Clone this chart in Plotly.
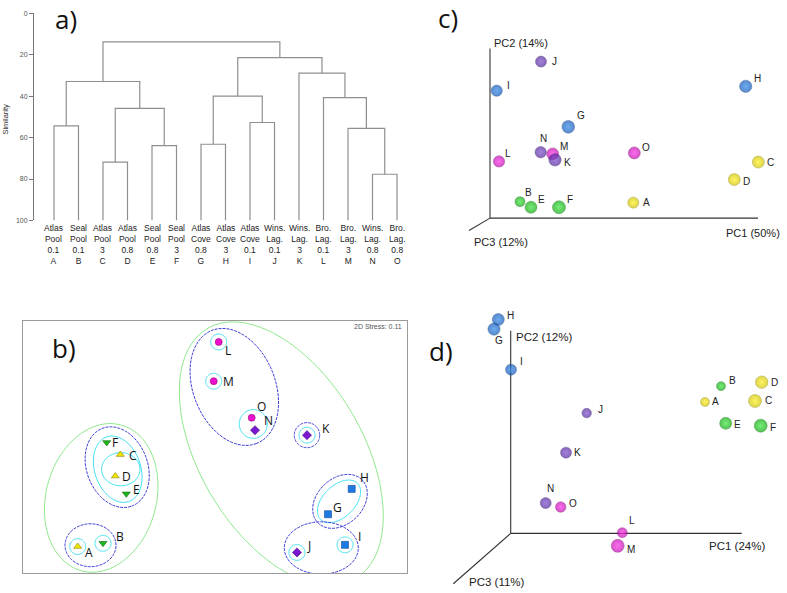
import numpy as np
import plotly.graph_objects as go

W, H = 787, 593

# ---------------- data ----------------
samples = list("ABCDEFGHIJKLMNO")
site = ["Atlas", "Seal", "Atlas", "Atlas", "Seal", "Seal", "Atlas", "Atlas", "Atlas",
        "Wins.", "Wins.", "Bro.", "Bro.", "Wins.", "Bro."]
habitat = ["Pool", "Pool", "Pool", "Pool", "Pool", "Pool", "Cove", "Cove", "Cove",
           "Lag.", "Lag.", "Lag.", "Lag.", "Lag.", "Lag."]
fraction = ["0.1", "0.1", "3", "0.8", "0.8", "3", "0.8", "3", "0.1",
            "0.1", "3", "0.1", "3", "0.8", "0.8"]
group = ["AP", "SP", "AP", "AP", "SP", "SP", "AC", "AC", "AC",
         "WL", "WL", "BL", "BL", "WL", "BL"]

# dendrogram merges: (left cluster, right cluster, similarity)
merges = [
    ("A", "B", 54.3), ("C", "D", 71.8), ("E", "F", 63.9), ("CD", "EF", 45.9),
    ("AB", "CDEF", 32.9), ("G", "H", 63.2), ("I", "J", 52.7), ("GH", "IJ", 40.0),
    ("N", "O", 77.7), ("M", "NO", 55.5), ("L", "MNO", 40.7), ("K", "LMNO", 28.9),
    ("GHIJ", "KLMNO", 21.4), ("ABCDEF", "GHIJKLMNO", 13.8),
]
sim_ticks = [0, 20, 40, 60, 80, 100]

# NMDS (panel b)
nmds1 = [-1.373, -1.12, -0.947, -0.997, -0.887, -1.083, 1.13, 1.367, 1.30, 0.82, 0.92, 0.037, -0.013, 0.40, 0.367]
nmds2 = [-1.0065, -0.9735, -0.0765, -0.2935, -0.4735, 0.0465, -0.6795, -0.4235, -0.9895, -1.0665, 0.1205, 1.0635, 0.6665, 0.1705, 0.2965]
stress_text = "2D Stress: 0.11"

# PCA view c
pc1_c = [1.433, 0.30, 2.683, 2.443, 0.41, 0.69, 0.783, 2.557, 0.067, 0.51, 0.65, 0.09, 0.627, 0.507, 1.443]
pc2_c = [0.157, 0.167, 0.567, 0.39, 0.11, 0.11, 0.924, 1.334, 1.29, 1.584, 0.59, 0.574, 0.65, 0.667, 0.66]
pc3_c = [-0.5, -1.0, 0.0, 0.0, 0.0, 0.5, 0.35, 0.15, -0.35, -0.5, 0.2, -0.35, 0.0, -0.3, 0.0]
axes_c = ["PC1 (50%)", "PC2 (14%)", "PC3 (12%)"]

# PCA view d
pc1_d = [1.943, 2.103, 2.443, 2.51, 2.15, 2.50, -0.167, -0.124, 0.003, 0.76, 0.553, 1.116, 1.07, 0.35, 0.50]
pc2_d = [1.33, 1.49, 1.34, 1.53, 1.114, 1.09, 2.067, 2.164, 1.657, 1.217, 0.817, 0.007, -0.126, 0.307, 0.267]
pc3_d = [-1.5, -1.5, 0.5, 0.25, 0.0, 0.5, 0.1, 0.0, -0.5, -1.25, -0.5, -1.0, 0.5, -0.5, -0.75]
axes_d = ["PC1 (24%)", "PC2 (12%)", "PC3 (11%)"]

# ---------------- styles ----------------
sphere_col = {"AP": "#cfc200", "SP": "#0ea80e", "AC": "#1257b5", "WL": "#52259a", "BL": "#c008b0"}
sphere_hi = {"AP": "#fff21a", "SP": "#3ae83a", "AC": "#2f88ec", "WL": "#7f4fd0", "BL": "#ff30ea"}
sphere_dark = {"AP": "#8c8200", "SP": "#0d700d", "AC": "#0c3f80", "WL": "#3a1d6a", "BL": "#7d0a72"}
b_col = {"AP": "#f0e600", "SP": "#1fb51f", "AC": "#1f7ae0", "WL": "#7a18d0", "BL": "#ee10cc"}
b_line = {"AP": "#8a8000", "SP": "#0d6a0d", "AC": "#0b4aa0", "WL": "#400a80", "BL": "#900a80"}
b_sym = {"AP": "triangle-up", "SP": "triangle-down", "AC": "square", "WL": "diamond", "BL": "circle"}
groups_order = ["AP", "SP", "AC", "BL", "WL"]

def px_x(p):
    return p / W

def px_y(p):
    return 1 - p / H

fig = go.Figure()

# ---------------- panel a: dendrogram ----------------
pos = {s: float(i) for i, s in enumerate(samples)}
hgt = {s: 100.0 for s in samples}
for l, r, h in merges:
    xl, xr = pos[l], pos[r]
    fig.add_trace(go.Scatter(x=[xl, xl, xr, xr], y=[hgt[l], h, h, hgt[r]], mode="lines",
                             line=dict(color="#8f8f8f", width=1.2), hoverinfo="skip",
                             showlegend=False, xaxis="x", yaxis="y"))
    pos[l + r] = (xl + xr) / 2
    hgt[l + r] = h

annotations = []
for i, s in enumerate(samples):
    annotations.append(dict(x=i, y=100, xref="x", yref="y", xanchor="center", yanchor="top", yshift=-1,
                            text=f"{site[i]}<br>{habitat[i]}<br>{fraction[i]}<br>{s}",
                            showarrow=False, align="center",
                            font=dict(family="Liberation Sans", size=8.5, color="#222")))
annotations.append(dict(x=px_x(6), y=px_y(117), xref="paper", yref="paper", text="Similarity",
                        textangle=-90, showarrow=False, xanchor="center", yanchor="middle",
                        font=dict(family="Liberation Sans", size=7.5, color="#333")))

# ---------------- panel b: NMDS ----------------
def ellipse_path(cx, cy, a, b, theta_deg, n=100):
    t = np.linspace(0, 2 * np.pi, n)
    th = np.radians(theta_deg)
    xs = cx + a * np.cos(t) * np.cos(th) - b * np.sin(t) * np.sin(th)
    ys = cy + a * np.cos(t) * np.sin(th) + b * np.sin(t) * np.cos(th)
    return "M " + " L ".join(f"{x:.4f},{y:.4f}" for x, y in zip(xs, ys)) + " Z"

cyan, blue_d, green_l = "#3fe0f0", "#3a3ad6", "#8ee88e"
contours = [
    # (cx, cy, a, b, theta, color, dash)
    (0.037, 1.0635, 0.08, 0.08, 0, cyan, "solid"),
    (-0.013, 0.6665, 0.08, 0.08, 0, cyan, "solid"),
    (0.92, 0.1205, 0.08, 0.08, 0, cyan, "solid"),
    (0.82, -1.0665, 0.08, 0.08, 0, cyan, "solid"),
    (1.30, -0.9895, 0.08, 0.08, 0, cyan, "solid"),
    (-1.373, -1.0065, 0.08, 0.08, 0, cyan, "solid"),
    (-1.12, -0.9735, 0.08, 0.08, 0, cyan, "solid"),
    (0.383, 0.2335, 0.14, 0.145, 0, cyan, "solid"),
    (-0.942, -0.2245, 0.192, 0.168, 0, cyan, "solid"),
    (-0.973, -0.2245, 0.345, 0.23, -72, cyan, "solid"),
    (1.24, -0.5495, 0.26, 0.16, 45, cyan, "solid"),
    (-1.245, -0.9935, 0.255, 0.217, 0, blue_d, "3px,1px"),
    (-0.978, -0.2035, 0.42, 0.305, -70, blue_d, "3px,1px"),
    (0.193, 0.6085, 0.614, 0.411, -69, blue_d, "3px,1px"),
    (0.92, 0.1205, 0.127, 0.127, 0, blue_d, "3px,1px"),
    (1.25, -0.5495, 0.31, 0.23, 45, blue_d, "3px,1px"),
    (1.063, -1.0215, 0.37, 0.265, 0, blue_d, "3px,1px"),
    (-1.138, -0.5145, 0.764, 0.552, 75.4, green_l, "solid"),
    (0.663, -0.0665, 1.466, 0.817, -59.9, green_l, "solid"),
]
shapes = []
for cx, cy, a, b, th, col, dash in contours:
    shapes.append(dict(type="path", path=ellipse_path(cx, cy, a, b, th), xref="x2", yref="y2",
                       line=dict(color=col, width=1, dash=dash), layer="below"))

for g in groups_order:
    idx = [i for i in range(15) if group[i] == g]
    fig.add_trace(go.Scatter(x=[nmds1[i] for i in idx], y=[nmds2[i] for i in idx], mode="markers",
                             marker=dict(symbol=b_sym[g], size=7, color=b_col[g],
                                         line=dict(color=b_line[g], width=0.6)),
                             showlegend=False, hoverinfo="skip", xaxis="x2", yaxis="y2"))

b_off = {"A": (11.6, 6), "B": (17.3, -6.4), "C": (13, 0.7), "D": (11.4, 0), "E": (10.4, -4.7),
         "F": (8.6, 0), "G": (9.7, -6.3), "H": (13, -11.4), "I": (14.3, -8), "J": (12, -6.7),
         "K": (18.7, -6.3), "L": (9, 8.7), "M": (14.6, 0), "N": (13.3, -9.3), "O": (9.3, -11)}
for i, s in enumerate(samples):
    dx, dy = b_off[s]
    annotations.append(dict(x=nmds1[i], y=nmds2[i], xref="x2", yref="y2", text=s, showarrow=False,
                            xanchor="center", yanchor="middle",
                            xshift=dx, yshift=-dy, font=dict(family="Open Sans", size=12, color="#111")))
annotations.append(dict(x=px_x(404), y=px_y(326), xref="paper", yref="paper", text=stress_text,
                        xanchor="right", yanchor="middle", showarrow=False,
                        font=dict(family="Liberation Sans", size=7, color="#555")))

# ---------------- panels c, d: PCA spheres ----------------
def add_spheres(p1, p2, p3, xa, ya, offs):
    for g in groups_order:
        idx = sorted([i for i in range(15) if group[i] == g], key=lambda i: p3[i])
        fig.add_trace(go.Scatter(
            x=[p1[i] for i in idx], y=[p2[i] for i in idx], mode="markers",
            marker=dict(size=[12 + 2 * p3[i] for i in idx], color=sphere_col[g],
                        gradient=dict(type="radial", color=sphere_hi[g]),
                        line=dict(color=sphere_dark[g], width=0.5)),
            showlegend=False, hoverinfo="skip", xaxis=xa, yaxis=ya))
    for i, s in enumerate(samples):
        dx, dy = offs[s]
        annotations.append(dict(x=p1[i], y=p2[i], xref=xa, yref=ya, text=s, showarrow=False,
                                xanchor="center", yanchor="middle", xshift=dx, yshift=-dy,
                                font=dict(family="Liberation Sans", size=10, color="#222")))

# axis frames (pseudo 3-D)
c_ends = dict(pc1=2.68, pc2=1.717, pc3=(-0.21, -0.125))
d_ends = dict(pc1=2.31, pc2=2.05, pc3=(-0.574, -0.51))
for xa, ya, e in [("x3", "y3", c_ends), ("x4", "y4", d_ends)]:
    for x0, y0, x1, y1 in [(0, 0, e["pc1"], 0), (0, 0, 0, e["pc2"]), (0, 0, e["pc3"][0], e["pc3"][1])]:
        shapes.append(dict(type="line", x0=x0, y0=y0, x1=x1, y1=y1, xref=xa, yref=ya,
                           line=dict(color="#333", width=1.1), layer="below"))

c_off = {"A": (13.4, 0), "B": (8.3, -9.3), "C": (11.7, 0), "D": (12.4, 1.6), "E": (10, -7.4),
         "F": (11, -7.4), "G": (12.4, -11), "H": (12, -8.3), "I": (11.6, -5), "J": (13, 0),
         "K": (12.7, 2.3), "L": (9.3, -7.6), "M": (11.3, -7.7), "N": (2.6, -13.3), "O": (11.7, -5.7)}
d_off = {"A": (10, 0), "B": (11.3, -6), "C": (13.3, 0), "D": (12.6, 0), "E": (12, 1.7),
         "F": (12.6, 1.6), "G": (5, 11.7), "H": (12.4, -4.3), "I": (10.7, -8.3), "J": (13.3, -3.3),
         "K": (11.7, 0), "L": (10, -11.7), "M": (13.3, 4), "N": (4.3, -15), "O": (12.6, -3)}
add_spheres(pc1_c, pc2_c, pc3_c, "x3", "y3", c_off)
add_spheres(pc1_d, pc2_d, pc3_d, "x4", "y4", d_off)

axfont = dict(family="Liberation Sans", size=11, color="#222")
for x, y, xr, yr, t, xanc, sz in [
    (2.625, -0.153, "x3", "y3", axes_c[0], "center", 11),
    (0.02, 1.774, "x3", "y3", axes_c[1], "left", 11),
    (0.11, -0.243, "x3", "y3", axes_c[2], "center", 11),
    (2.258, -0.126, "x4", "y4", axes_d[0], "center", 11.5),
    (0.331, 1.99, "x4", "y4", axes_d[1], "center", 11.5),
    (-0.137, -0.493, "x4", "y4", axes_d[2], "center", 11.5),
]:
    annotations.append(dict(x=x, y=y, xref=xr, yref=yr, text=t, showarrow=False, xanchor=xanc,
                            yanchor="middle", font=dict(axfont, size=sz)))

# panel letters
for txt, x, y in [("a)", 66, 15), ("b)", 64, 348), ("c)", 448, 14), ("d)", 441, 351)]:
    annotations.append(dict(x=px_x(x), y=px_y(y), xref="paper", yref="paper", text=txt, showarrow=False,
                            xanchor="center", yanchor="middle",
                            font=dict(family="Open Sans", size=26, color="#111")))

hidden = dict(visible=False, showgrid=False, zeroline=False)
fig.update_layout(
    width=W, height=H, margin=dict(l=0, r=0, t=0, b=0),
    paper_bgcolor="white", plot_bgcolor="rgba(0,0,0,0)", showlegend=False,
    xaxis=dict(hidden, domain=[px_x(34), px_x(412)], range=[-0.816, 14.612]),
    yaxis=dict(domain=[px_y(219), px_y(9.5)], range=[100, 0], tickvals=sim_ticks,
               ticks="outside", ticklen=4, tickcolor="#777", showline=True, linecolor="#777",
               linewidth=1, showgrid=False, zeroline=False,
               tickfont=dict(family="Liberation Sans", size=7, color="#555")),
    xaxis2=dict(domain=[px_x(23), px_x(407)], range=[-1.92, 1.92], showline=True, mirror=True,
                linecolor="#9a9a9a", linewidth=1.2, showticklabels=False, ticks="",
                showgrid=False, zeroline=False, anchor="y2"),
    yaxis2=dict(domain=[px_y(576), px_y(320.7)], range=[-1.2765, 1.2765], showline=True, mirror=True,
                linecolor="#9a9a9a", linewidth=1.2, showticklabels=False, ticks="",
                showgrid=False, zeroline=False, anchor="x2"),
    xaxis3=dict(hidden, domain=[px_x(440), 1], range=[-0.5, 2.97], anchor="y3"),
    yaxis3=dict(hidden, domain=[px_y(290), 1], range=[-0.733, 2.167], anchor="x3"),
    xaxis4=dict(hidden, domain=[px_x(440), 1], range=[-0.707, 2.763], anchor="y4"),
    yaxis4=dict(hidden, domain=[0, px_y(295)], range=[-0.573, 2.407], anchor="x4"),
    shapes=shapes, annotations=annotations,
)
for tr in fig.data:
    tr.cliponaxis = False

fig.write_html("out.html", config={"displayModeBar": False},
               post_script="document.body.style.margin='0px';")
